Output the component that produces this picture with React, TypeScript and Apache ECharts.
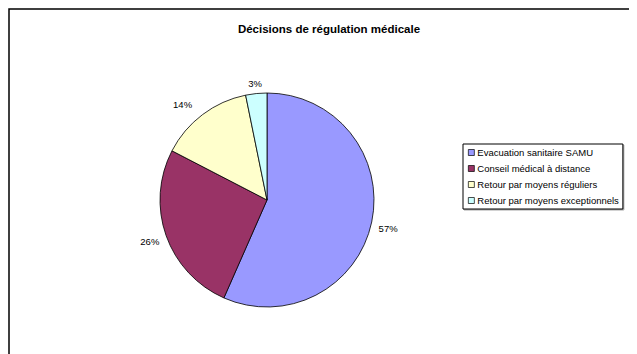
import React, { useEffect, useRef } from "react";
import * as echarts from "echarts";

const title = "Décisions de régulation médicale";
const categories = [
  "Evacuation sanitaire SAMU",
  "Conseil médical à distance",
  "Retour par moyens réguliers",
  "Retour par moyens exceptionnels",
];
const values = [56.6, 26.0, 14.2, 3.2];
const colors = ["#9999FF", "#993366", "#FFFFCC", "#CCFFFF"];
const labelNudges = [
  [-2, 6],
  [2, 5],
  [-3, -7],
  [11, -6],
];

export default function App() {
  const ref = useRef<HTMLDivElement>(null);
  useEffect(() => {
    if (!ref.current) return;
    const chart = echarts.init(ref.current, null, { renderer: "svg" });
    const font = "Liberation Sans, Arial, sans-serif";
    chart.setOption({
      animation: false,
      backgroundColor: "#ffffff",
      title: {
        text: title,
        left: 316,
        textAlign: "center",
        top: 10,
        textStyle: { fontFamily: font, fontSize: 11.5, fontWeight: "bold", color: "#000" },
      },
      graphic: [
        {
          type: "rect",
          shape: { x: 1, y: 1, width: 700, height: 420 },
          style: { fill: "none", stroke: "#000", lineWidth: 1.5 },
          silent: true,
        },
      ],
      legend: {
        orient: "vertical",
        left: 455,
        top: 136,
        padding: [3, 4, 3, 5],
        itemGap: 5,
        itemWidth: 6,
        itemHeight: 6,
        icon: "rect",
        borderColor: "#000",
        borderWidth: 1,
        backgroundColor: "#fff",
        shadowColor: "rgba(0,0,0,0.35)",
        shadowOffsetX: 1,
        shadowOffsetY: 1,
        itemStyle: { borderColor: "#000", borderWidth: 0.7 },
        textStyle: { fontFamily: font, fontSize: 9.5, color: "#000", padding: [0, 0, 0, -2], lineHeight: 11 },
        data: categories,
      },
      series: [
        {
          type: "pie",
          center: [259, 192],
          radius: 107,
          startAngle: 90,
          clockwise: true,
          avoidLabelOverlap: false,
          itemStyle: { borderColor: "#000", borderWidth: 0.8 },
          label: {
            show: true,
            position: "outside",
            fontFamily: font,
            fontSize: 9.5,
            color: "#000",
            formatter: (p: any) => Math.round(p.percent) + "%",
          },
          labelLine: { show: false, length: 4, length2: 0 },
          labelLayout: (p: any) => ({ dx: labelNudges[p.dataIndex][0], dy: labelNudges[p.dataIndex][1] }),
          data: categories.map((c, i) => ({
            name: c,
            value: values[i],
            itemStyle: { color: colors[i] },
          })),
        },
      ],
    });
    return () => chart.dispose();
  }, []);
  return <div ref={ref} style={{ width: 629, height: 346 }} />;
}
